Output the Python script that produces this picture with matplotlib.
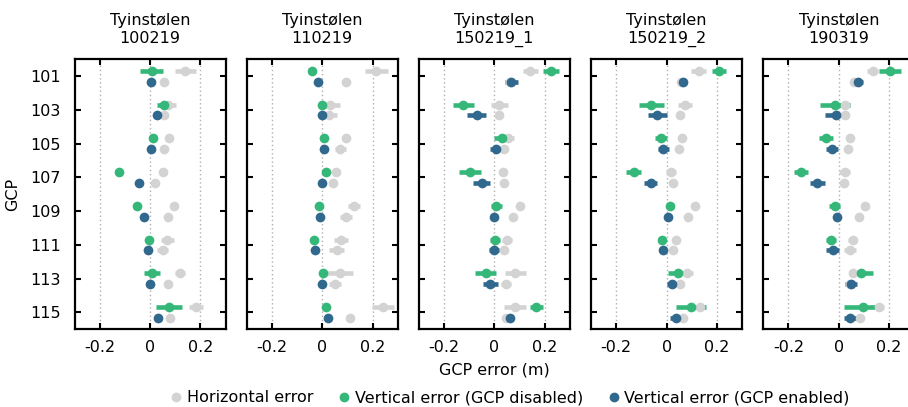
import matplotlib
matplotlib.use("Agg")
import matplotlib.pyplot as plt
from matplotlib.lines import Line2D
import numpy as np

plt.rcParams["font.family"] = ["DejaVu Sans"]

# Survey dates (one panel each) and ground control points
site = "Tyinstølen"
dates = ["100219", "110219", "150219_1", "150219_2", "190319"]
gcps = ["101", "103", "105", "107", "109", "111", "113", "115"]

# Horizontal error, GCP disabled (one row per date, one value per GCP)
horiz_disabled = [
    [0.140, 0.073, 0.076, 0.053, 0.096, 0.069, 0.120, 0.184],
    [0.215, 0.031, 0.095, 0.053, 0.127, 0.075, 0.071, 0.241],
    [0.143, 0.020, 0.056, 0.036, 0.100, 0.049, 0.083, 0.083],
    [0.127, 0.073, 0.063, 0.017, 0.113, 0.036, 0.080, 0.131],
    [0.134, 0.025, 0.045, 0.023, 0.105, 0.056, 0.056, 0.158],
]
horiz_disabled_ci = [
    [0.042, 0.030, 0.000, 0.000, 0.000, 0.025, 0.020, 0.028],
    [0.045, 0.040, 0.015, 0.015, 0.023, 0.028, 0.050, 0.043],
    [0.030, 0.033, 0.020, 0.000, 0.000, 0.020, 0.042, 0.044],
    [0.031, 0.027, 0.000, 0.020, 0.000, 0.000, 0.025, 0.023],
    [0.023, 0.020, 0.000, 0.022, 0.000, 0.018, 0.015, 0.020],
]

# Horizontal error, GCP enabled
horiz_enabled = [
    [0.057, 0.057, 0.057, 0.021, 0.073, 0.051, 0.073, 0.080],
    [0.095, 0.028, 0.071, 0.041, 0.095, 0.057, 0.051, 0.111],
    [0.063, 0.019, 0.040, 0.040, 0.073, 0.037, 0.047, 0.045],
    [0.057, 0.053, 0.049, 0.024, 0.087, 0.027, 0.053, 0.067],
    [0.062, 0.023, 0.036, 0.019, 0.082, 0.045, 0.045, 0.085],
]
horiz_enabled_ci = [
    [0.000, 0.015, 0.000, 0.000, 0.000, 0.022, 0.000, 0.000],
    [0.015, 0.030, 0.022, 0.012, 0.025, 0.028, 0.025, 0.012],
    [0.000, 0.000, 0.015, 0.000, 0.000, 0.000, 0.020, 0.015],
    [0.000, 0.000, 0.000, 0.000, 0.000, 0.000, 0.015, 0.000],
    [0.010, 0.000, 0.000, 0.000, 0.000, 0.025, 0.000, 0.000],
]

# Vertical error, GCP disabled
vert_disabled = [
    [0.007, 0.057, 0.011, -0.123, -0.052, -0.005, 0.008, 0.076],
    [-0.040, 0.000, 0.009, 0.015, -0.011, -0.033, 0.005, 0.015],
    [0.225, -0.124, 0.029, -0.097, 0.007, 0.003, -0.035, 0.167],
    [0.209, -0.060, -0.023, -0.131, 0.012, -0.019, 0.047, 0.097],
    [0.204, -0.015, -0.052, -0.150, -0.017, -0.030, 0.087, 0.098],
]
vert_disabled_ci = [
    [0.045, 0.030, 0.000, 0.000, 0.000, 0.000, 0.033, 0.053],
    [0.000, 0.000, 0.000, 0.000, 0.000, 0.000, 0.000, 0.000],
    [0.030, 0.041, 0.032, 0.043, 0.022, 0.020, 0.042, 0.025],
    [0.028, 0.051, 0.025, 0.030, 0.000, 0.000, 0.043, 0.061],
    [0.044, 0.060, 0.027, 0.029, 0.021, 0.020, 0.048, 0.077],
]

# Vertical error, GCP enabled
vert_enabled = [
    [0.003, 0.027, 0.005, -0.043, -0.023, -0.009, 0.000, 0.033],
    [-0.015, 0.000, 0.009, 0.001, -0.008, -0.027, 0.001, 0.023],
    [0.067, -0.071, 0.008, -0.051, 0.000, -0.001, -0.016, 0.060],
    [0.064, -0.037, -0.013, -0.063, 0.004, -0.013, 0.023, 0.036],
    [0.075, -0.011, -0.028, -0.085, -0.008, -0.024, 0.048, 0.046],
]
vert_enabled_ci = [
    [0.000, 0.000, 0.000, 0.000, 0.000, 0.000, 0.000, 0.000],
    [0.000, 0.000, 0.000, 0.000, 0.000, 0.000, 0.000, 0.000],
    [0.025, 0.039, 0.025, 0.033, 0.000, 0.020, 0.031, 0.000],
    [0.015, 0.038, 0.023, 0.025, 0.000, 0.000, 0.022, 0.022],
    [0.023, 0.043, 0.024, 0.030, 0.000, 0.025, 0.025, 0.026],
]

grey = "#d3d3d3"
green = "#35b779"
blue = "#31688e"
fs = 11.5

W, H = 908, 407
fig = plt.figure(figsize=(W / 100, H / 100), dpi=100)

ax_w = 151.0
ax_top, ax_bot = 59.3, 329.3
lefts = [74.5 + 172.2 * i for i in range(5)]
dodge = 0.16
ypos = np.arange(len(gcps))


def series(ax, y, vals, ci, color):
    ax.errorbar(vals, y, xerr=ci, fmt="o", color=color, ecolor=color,
                markersize=7.0, elinewidth=3.3, capsize=0, linestyle="none",
                markeredgewidth=0, zorder=3)


for i, date in enumerate(dates):
    rect = [lefts[i] / W, 1 - ax_bot / H, ax_w / W, (ax_bot - ax_top) / H]
    ax = fig.add_axes(rect)
    series(ax, ypos - dodge, horiz_disabled[i], horiz_disabled_ci[i], grey)
    series(ax, ypos + dodge, horiz_enabled[i], horiz_enabled_ci[i], grey)
    series(ax, ypos - dodge, vert_disabled[i], vert_disabled_ci[i], green)
    series(ax, ypos + dodge, vert_enabled[i], vert_enabled_ci[i], blue)

    ax.set_xlim(-0.3, 0.3)
    ax.set_ylim(len(gcps) - 0.5, -0.5)
    ax.set_xticks([-0.2, 0, 0.2])
    ax.set_xticklabels(["-0.2", "0", "0.2"])
    ax.set_yticks(ypos)
    if i == 0:
        ax.set_yticklabels(gcps)
    else:
        ax.set_yticklabels([])
    for x in [-0.2, 0, 0.2]:
        ax.axvline(x, color="#b0b0b0", linestyle=(0, (1, 2)), linewidth=1.0, zorder=1)
    ax.tick_params(direction="in", length=4, width=1.5, top=True, right=True,
                   labelsize=fs)
    ax.tick_params(axis="x", pad=8)
    ax.tick_params(axis="y", pad=10)
    for s in ax.spines.values():
        s.set_linewidth(1.6)
    ax.set_title(f"{site}\n{date}", fontsize=fs, pad=12)

fig.text(13 / W, 1 - 194 / H, "GCP", rotation=90, ha="center", va="center", fontsize=fs)
fig.text(494 / W, 1 - 370 / H, "GCP error (m)", ha="center", va="center", fontsize=fs)

handles = [
    Line2D([], [], marker="o", linestyle="none", color=grey, markersize=6),
    Line2D([], [], marker="o", linestyle="none", color=green, markersize=6),
    Line2D([], [], marker="o", linestyle="none", color=blue, markersize=6),
]
labels = ["Horizontal error", "Vertical error (GCP disabled)", "Vertical error (GCP enabled)"]
fig.legend(handles, labels, loc="center", bbox_to_anchor=(509 / W, 1 - 398 / H),
           ncol=3, frameon=False, fontsize=fs, handletextpad=0.15, columnspacing=1.45,
           handlelength=1.0)

fig.savefig("out.png", dpi=100)
